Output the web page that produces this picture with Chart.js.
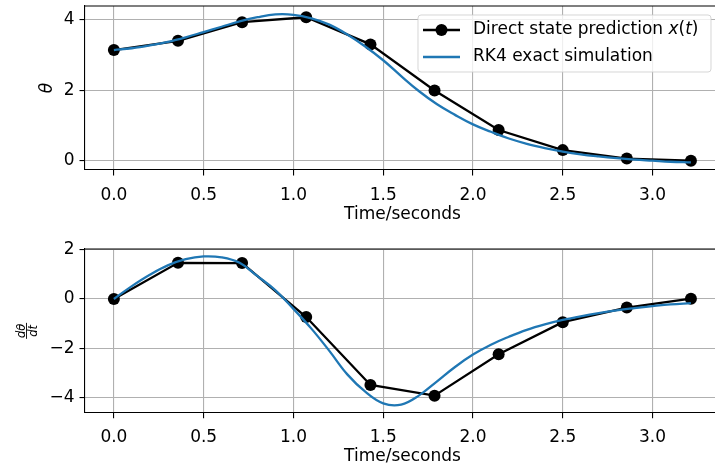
<!DOCTYPE html>
<html>
<head>
<meta charset="utf-8">
<script src="https://cdn.jsdelivr.net/npm/chart.js@4.4.1/dist/chart.umd.min.js"></script>
<style>
  html, body { margin: 0; padding: 0; background: #fff; overflow: hidden; }
  body { width: 715px; height: 469px; position: relative; }
  #wrap { position: absolute; left: 0; top: 0; width: 715px; height: 469px; overflow: hidden; }
  canvas { position: absolute; left: 0; }
  #thetaChart { top: 0; }
  #omegaChart { top: 235px; }
</style>
</head>
<body>
<div id="wrap">
<canvas id="thetaChart" width="760" height="235"></canvas>
<canvas id="omegaChart" width="760" height="234"></canvas>
</div>
<script>
// network output at the collocation times
const tPred = [0, 0.357, 0.714, 1.071, 1.429, 1.786, 2.143, 2.5, 2.857, 3.214];
const thetaPred = [3.14, 3.40, 3.93, 4.07, 3.30, 1.99, 0.87, 0.30, 0.06, 0.00];
const omegaPred = [0.00, 1.46, 1.45, -0.73, -3.48, -3.91, -2.24, -0.94, -0.35, 0.01];

// RK4 reference trajectory
const tSim = [0, 0.1, 0.2, 0.3, 0.4, 0.5, 0.6, 0.7, 0.8, 0.9, 1.0, 1.1, 1.2, 1.3, 1.4, 1.5,
  1.6, 1.7, 1.8, 1.9, 2.0, 2.1, 2.2, 2.3, 2.4, 2.5, 2.6, 2.7, 2.8, 2.9, 3.0, 3.1, 3.214];
const thetaSim = [3.14, 3.19, 3.27, 3.37, 3.50, 3.65, 3.80, 3.95, 4.07, 4.15, 4.14, 4.04, 3.86, 3.58, 3.24, 2.85,
  2.40, 1.97, 1.60, 1.30, 1.03, 0.82, 0.63, 0.48, 0.36, 0.26, 0.18, 0.12, 0.07, 0.03, 0.00, -0.03, -0.05];
const omegaSim = [0, 0.52, 0.98, 1.36, 1.61, 1.72, 1.68, 1.46, 0.92, 0.35, -0.40, -1.20, -2.10, -3.05, -3.75, -4.22,
  -4.27, -3.90, -3.33, -2.75, -2.25, -1.85, -1.53, -1.25, -1.03, -0.85, -0.70, -0.57, -0.46, -0.37, -0.29, -0.22, -0.17];

const xTicks = [0, 0.5, 1.0, 1.5, 2.0, 2.5, 3.0];
const thetaTicks = [0, 2, 4];
const omegaTicks = [-4, -2, 0, 2];

const legendLabels = ['Direct state prediction ', 'RK4 exact simulation'];

const FONT = "'DejaVu Sans', sans-serif";
const FS = 17;
const BLUE = '#1f77b4';

function pts(xs, ys) {
  return xs.map((x, i) => ({ x: x, y: ys[i] }));
}

function minusSign(v) {
  return v < 0 ? '\u2212' + Math.abs(v) : String(v);
}

// top and right spines (chart.js only draws the axis side)
const framePlugin = {
  id: 'frame',
  afterDraw(chart) {
    const a = chart.chartArea, ctx = chart.ctx;
    ctx.save();
    ctx.strokeStyle = '#000';
    ctx.lineWidth = 1.1;
    ctx.beginPath();
    ctx.moveTo(a.left, a.top);
    ctx.lineTo(a.right, a.top);
    ctx.lineTo(a.right, a.bottom);
    ctx.stroke();
    ctx.restore();
  }
};

const legendPlugin = {
  id: 'mplLegend',
  afterDraw(chart) {
    const ctx = chart.ctx;
    ctx.save();
    const x0 = 418, y0 = 15, w = 293, h = 57, r = 3;
    ctx.beginPath();
    ctx.roundRect(x0, y0, w, h, r);
    ctx.fillStyle = 'rgba(255,255,255,0.8)';
    ctx.fill();
    ctx.strokeStyle = 'rgba(204,204,204,0.8)';
    ctx.lineWidth = 1;
    ctx.stroke();

    // row 1 : black line + marker
    ctx.strokeStyle = '#000';
    ctx.lineWidth = 2.3;
    ctx.beginPath(); ctx.moveTo(423, 30); ctx.lineTo(460, 30); ctx.stroke();
    ctx.fillStyle = '#000';
    ctx.beginPath(); ctx.arc(441.5, 30, 6, 0, Math.PI * 2); ctx.fill();

    ctx.textBaseline = 'middle';
    ctx.textAlign = 'left';
    let x = 473;
    const parts = [[legendLabels[0], ''], ['x', 'italic '], ['(', ''], ['t', 'italic '], [')', '']];
    parts.forEach(p => {
      ctx.font = p[1] + FS + 'px ' + FONT;
      ctx.fillText(p[0], x, 30);
      x += ctx.measureText(p[0]).width;
    });

    // row 2 : blue line
    ctx.strokeStyle = BLUE;
    ctx.beginPath(); ctx.moveTo(423, 57); ctx.lineTo(460, 57); ctx.stroke();
    ctx.font = FS + 'px ' + FONT;
    ctx.fillText(legendLabels[1], 473, 57);
    ctx.restore();
  }
};

// d(theta)/dt written as a fraction, rotated
const fracPlugin = {
  id: 'fracLabel',
  afterDraw(chart) {
    const a = chart.chartArea, ctx = chart.ctx;
    ctx.save();
    ctx.translate(26.5, (a.top + a.bottom) / 2);
    ctx.rotate(-Math.PI / 2);
    ctx.fillStyle = '#000';
    ctx.font = 'italic 11.5px ' + FONT;
    ctx.textAlign = 'center';
    ctx.textBaseline = 'alphabetic';
    ctx.fillText('d\u03b8', 0, -2);
    ctx.textBaseline = 'top';
    ctx.fillText('dt', 0, 1.5);
    ctx.strokeStyle = '#000';
    ctx.lineWidth = 0.9;
    ctx.beginPath(); ctx.moveTo(-8, 0); ctx.lineTo(8, 0); ctx.stroke();
    ctx.restore();
  }
};

function makeChart(id, simY, predY, yMin, yMax, yTicks, yTitle, padTop, xHeight, titlePad, extra) {
  const ctx = document.getElementById(id).getContext('2d');
  return new Chart(ctx, {
    type: 'line',
    data: {
      datasets: [
        {
          label: 'RK4 exact simulation',
          data: pts(tSim, simY),
          borderColor: BLUE,
          borderWidth: 2.3,
          pointRadius: 0,
          tension: 0.4,
          fill: false
        },
        {
          label: 'Direct state prediction x(t)',
          data: pts(tPred, predY),
          borderColor: '#000',
          backgroundColor: '#000',
          borderWidth: 2.3,
          pointRadius: 6,
          pointBorderWidth: 0,
          pointBackgroundColor: '#000',
          tension: 0,
          fill: false
        }
      ]
    },
    options: {
      responsive: false,
      animation: false,
      devicePixelRatio: 1,
      layout: { padding: { top: padTop, right: 40, left: 0, bottom: 0 } },
      plugins: { legend: { display: false }, tooltip: { enabled: false } },
      scales: {
        x: {
          type: 'linear',
          min: -0.161,
          max: 3.376,
          afterBuildTicks: s => { s.ticks = xTicks.map(v => ({ value: v })); },
          afterFit: s => { s.height = xHeight; s.paddingLeft = 0; s.paddingRight = 0; },
          grid: { color: '#b0b0b0', lineWidth: 1.1, tickColor: '#000', tickLength: 5.5 },
          border: { color: '#000', width: 1.1 },
          ticks: { color: '#000', font: { family: FONT, size: FS }, padding: 9.5, maxRotation: 0,
            callback: v => v.toFixed(1) },
          title: { display: true, text: 'Time/seconds', color: '#000',
            font: { family: FONT, size: FS }, padding: { top: 0, bottom: titlePad } }
        },
        y: {
          min: yMin,
          max: yMax,
          afterBuildTicks: s => { s.ticks = yTicks.map(v => ({ value: v })); },
          afterFit: s => { s.width = 85; s.paddingTop = 0; s.paddingBottom = 0; },
          grid: { color: '#b0b0b0', lineWidth: 1.1, tickColor: '#000', tickLength: 5.5 },
          border: { color: '#000', width: 1.1 },
          ticks: { color: '#000', font: { family: FONT, size: FS }, padding: 5, callback: minusSign },
          title: { display: yTitle !== '', text: yTitle, color: '#000',
            font: { family: FONT, size: FS, style: 'italic' }, padding: { top: 37, bottom: 0 } }
        }
      }
    },
    plugins: [framePlugin].concat(extra)
  });
}

makeChart('thetaChart', thetaSim, thetaPred, -0.264, 4.389, thetaTicks, '\u03b8', 6, 65, 10, [legendPlugin]);
makeChart('omegaChart', omegaSim, omegaPred, -4.60, 2.02, omegaTicks, '', 14, 56.3, 2, [fracPlugin]);
</script>
</body>
</html>
